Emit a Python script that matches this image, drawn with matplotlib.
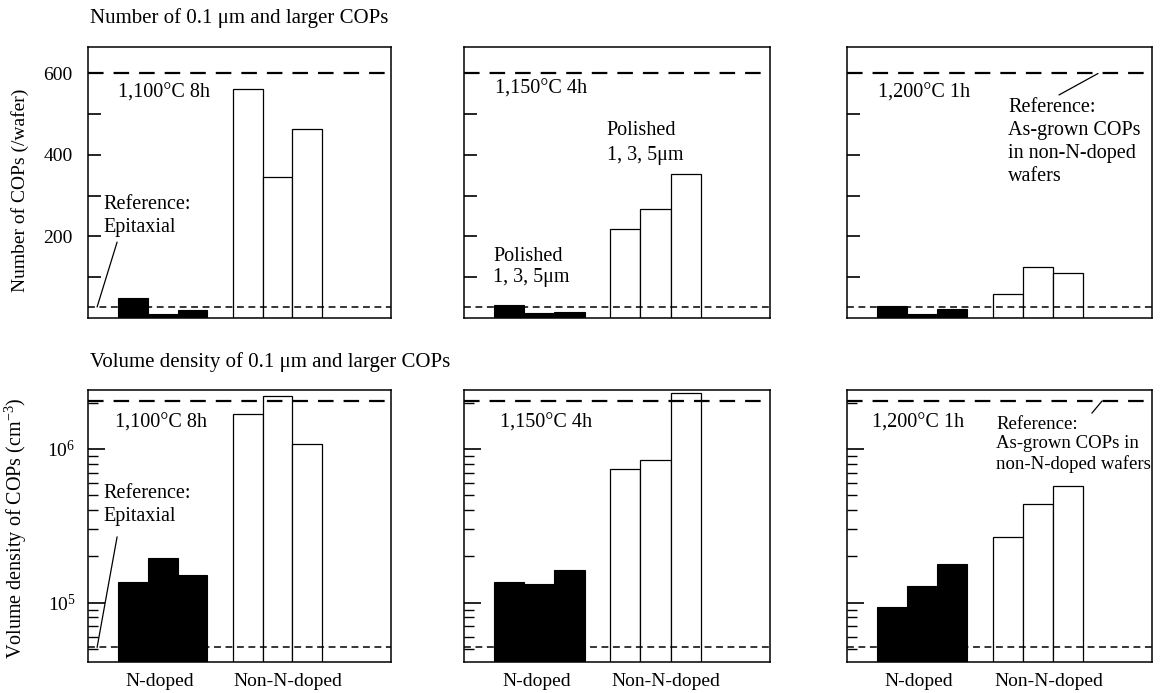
import matplotlib.pyplot as plt
from matplotlib.ticker import FixedLocator, LogLocator, NullFormatter

plt.rcParams['font.family'] = 'Liberation Serif'
plt.rcParams['mathtext.fontset'] = 'custom'
plt.rcParams['mathtext.rm'] = 'Liberation Serif'
plt.rcParams['mathtext.it'] = 'Liberation Serif:italic'
plt.rcParams['font.size'] = 14

conditions = ["1,100°C 8h", "1,150°C 4h", "1,200°C 1h"]
groups = ["N-doped", "Non-N-doped"]

# COPs per wafer after annealing, polished 1, 3, 5 um
count_ndoped = [[50, 11, 19], [32, 12, 15], [29, 11, 22]]
count_nondoped = [[561, 345, 463], [218, 267, 353], [58, 124, 110]]

# volume density of COPs (cm^-3)
dens_ndoped = [[1.37e5, 1.96e5, 1.50e5], [1.37e5, 1.33e5, 1.64e5], [9.3e4, 1.29e5, 1.79e5]]
dens_nondoped = [[1.69e6, 2.21e6, 1.08e6], [7.4e5, 8.5e5, 2.32e6], [2.68e5, 4.4e5, 5.75e5]]

# reference levels: as-grown non-N-doped wafers and epitaxial wafers
count_asgrown, count_epi = 600, 27
dens_asgrown, dens_epi = 2.05e6, 5.1e4

count_ticks = [200, 400, 600]
count_minor = [100, 300, 500]

x_nd = [1.5, 2.5, 3.5]
x_non = [5.35, 6.35, 7.35]

fig = plt.figure(figsize=(11.61, 6.93), dpi=100)

cols = [(88, 303), (464, 306), (847, 305)]
W, H = 1161, 693
TXT = 14.5


def make_ax(col, top, bottom):
    x0, w = cols[col]
    return fig.add_axes([x0 / W, 1 - bottom / H, w / W, (bottom - top) / H])


def draw_bars(ax, nd, non, ref_hi, ref_lo):
    ax.bar(x_nd, nd, width=1.0, color='black', edgecolor='black', lw=0.8)
    ax.bar(x_non, non, width=1.0, color='white', edgecolor='black', lw=0.9)
    ax.axhline(ref_hi, color='black', lw=1.6, dashes=(7, 4.5), zorder=5)
    ax.axhline(ref_lo, color='black', lw=1.1, dashes=(4.5, 3), zorder=5)
    ax.set_xlim(0, 10.15)
    for s in ax.spines.values():
        s.set_linewidth(1.1)


top_axes = []
bot_axes = []
for i in range(3):
    # counts
    ax = make_ax(i, 47, 318)
    draw_bars(ax, count_ndoped[i], count_nondoped[i], count_asgrown, count_epi)
    ax.set_ylim(0, 665)
    ax.yaxis.set_major_locator(FixedLocator(count_ticks))
    ax.yaxis.set_minor_locator(FixedLocator(count_minor))
    ax.tick_params(axis='y', which='both', direction='in', length=9.5, width=1.2,
                   pad=11, labelleft=(i == 0), labelsize=14)
    ax.tick_params(axis='x', bottom=False, labelbottom=False)
    top_axes.append(ax)

    # volume density
    ax = make_ax(i, 390, 662)
    ax.set_yscale('log')
    draw_bars(ax, dens_ndoped[i], dens_nondoped[i], dens_asgrown, dens_epi)
    ax.set_ylim(4.1e4, 2.42e6)
    ax.yaxis.set_major_locator(LogLocator(base=10))
    ax.yaxis.set_minor_locator(LogLocator(base=10, subs=range(2, 10)))
    ax.yaxis.set_minor_formatter(NullFormatter())
    ax.tick_params(axis='y', which='major', direction='in', length=12, width=1.2,
                   pad=9, labelleft=(i == 0), labelsize=14)
    ax.tick_params(axis='y', which='minor', direction='in', length=7, width=1.0)
    ax.set_xticks([2.4, 6.7])
    ax.set_xticklabels(groups)
    ax.tick_params(axis='x', length=0, pad=8, labelsize=14)
    bot_axes.append(ax)

# condition labels
for ax, c, y in zip(top_axes, conditions, [0.83, 0.845, 0.83]):
    ax.text(0.10, y, c, transform=ax.transAxes, ha='left', va='center', fontsize=TXT)
for ax, c, x in zip(bot_axes, conditions, [0.09, 0.118, 0.082]):
    ax.text(x, 0.879, c, transform=ax.transAxes, ha='left', va='center', fontsize=TXT)

# epitaxial reference notes
for ax, ref, ty, sy in [(top_axes[0], count_epi, 0.376, 0.28),
                        (bot_axes[0], dens_epi, 0.577, 0.46)]:
    ax.text(0.05, ty, "Reference:\nEpitaxial", transform=ax.transAxes,
            ha='left', va='center', linespacing=1.3, fontsize=TXT)
    ax.annotate('', xy=(0.03, ref), xycoords=('axes fraction', 'data'),
                xytext=(0.096, sy), textcoords='axes fraction',
                arrowprops=dict(arrowstyle='-', color='black', lw=0.9,
                                shrinkA=0, shrinkB=0))

# polished-depth notes at 1,150°C
ax = top_axes[1]
ax.text(0.467, 0.646, "Polished\n1, 3, 5μm", transform=ax.transAxes,
        ha='left', va='center', linespacing=1.4, fontsize=TXT)
ax.text(0.095, 0.188, "Polished\n1, 3, 5μm", transform=ax.transAxes,
        ha='left', va='center', linespacing=1.2, fontsize=TXT)

# as-grown reference notes at 1,200°C
ax = top_axes[2]
ax.text(0.528, 0.65, "Reference:\nAs-grown COPs\nin non-N-doped\nwafers",
        transform=ax.transAxes, ha='left', va='center', linespacing=1.3, fontsize=TXT)
ax.annotate('', xy=(0.823, count_asgrown), xycoords=('axes fraction', 'data'),
            xytext=(0.695, 0.823), textcoords='axes fraction',
            arrowprops=dict(arrowstyle='-', color='black', lw=0.9,
                            shrinkA=0, shrinkB=0))
ax = bot_axes[2]
ax.text(0.49, 0.80, "Reference:\nAs-grown COPs in\nnon-N-doped wafers",
        transform=ax.transAxes, ha='left', va='center', linespacing=1.2, fontsize=13.5)
ax.annotate('', xy=(0.836, dens_asgrown), xycoords=('axes fraction', 'data'),
            xytext=(0.803, 0.915), textcoords='axes fraction',
            arrowprops=dict(arrowstyle='-', color='black', lw=0.9,
                            shrinkA=0, shrinkB=0))

top_axes[0].set_ylabel("Number of COPs (/wafer)", fontsize=14)
top_axes[0].yaxis.set_label_coords(-0.195, 0.47)
bot_axes[0].set_ylabel("Volume density of COPs (cm$^{-3}$)", fontsize=14.5)
bot_axes[0].yaxis.set_label_coords(-0.195, 0.49)

fig.text(90 / W, 1 - 18 / H, "Number of 0.1 μm and larger COPs",
         ha='left', va='center', fontsize=15)
fig.text(90 / W, 1 - 362 / H, "Volume density of 0.1 μm and larger COPs",
         ha='left', va='center', fontsize=15)

fig.savefig("out.png", dpi=100)
